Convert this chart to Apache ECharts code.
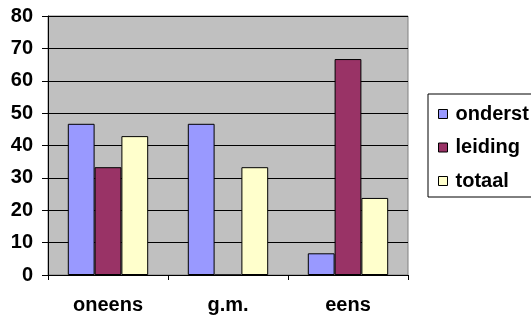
<!DOCTYPE html>
<html><head><meta charset="utf-8">
<script src="https://cdn.jsdelivr.net/npm/echarts@6/dist/echarts.min.js"></script>
<style>html,body{margin:0;padding:0;background:#fff}#c{width:531px;height:320px}</style>
</head><body><div id="c"></div>
<script>
const categories = ['oneens', 'g.m.', 'eens'];
const onderst = [46.7, 46.7, 6.7];
const leiding = [33.3, 0, 66.7];
const totaal = [42.9, 33.3, 23.8];
const yTicks = [0, 10, 20, 30, 40, 50, 60, 70, 80];

const font = '"Liberation Sans", Arial, sans-serif';
const fs = 20;
const chart = echarts.init(document.getElementById('c'), null, {renderer: 'canvas'});
const mk = (name, data, color) => ({
  name, type: 'bar', data, barGap: '0%', barCategoryGap: '33%',
  itemStyle: {color, borderColor: '#000', borderWidth: 1},
  emphasis: {disabled: true}
});
chart.setOption({
  animation: false,
  textStyle: {fontFamily: font},
  grid: {left: 48, top: 16, width: 360, height: 259, containLabel: false,
         show: true, backgroundColor: '#C0C0C0', borderColor: '#808080', borderWidth: 1},
  legend: {
    orient: 'vertical', left: 428, top: 94,
    padding: [10, 40, 6, 10], itemGap: 13.5, itemWidth: 9, itemHeight: 9,
    borderColor: '#000', borderWidth: 1, backgroundColor: '#fff',
    icon: 'rect',
    itemStyle: {borderColor: '#000', borderWidth: 1},
    textStyle: {fontFamily: font, fontWeight: 'bold', fontSize: fs, color: '#000', padding: [0, 0, 0, 3]},
    data: ['onderst', 'leiding', 'totaal']
  },
  xAxis: {
    type: 'category', data: categories,
    axisLine: {lineStyle: {color: '#000', width: 1}},
    axisTick: {show: true, length: 5, alignWithLabel: false, lineStyle: {color: '#000'}},
    axisLabel: {fontFamily: font, fontWeight: 'bold', fontSize: fs, color: '#000', margin: 20}
  },
  yAxis: {
    type: 'value', min: yTicks[0], max: yTicks[yTicks.length - 1], interval: 10,
    axisLine: {show: true, lineStyle: {color: '#000', width: 1}},
    axisTick: {show: true, length: 6, lineStyle: {color: '#000'}},
    splitLine: {show: true, lineStyle: {color: '#000', width: 1}},
    axisLabel: {fontFamily: font, fontWeight: 'bold', fontSize: fs, color: '#000', margin: 15}
  },
  series: [
    mk('onderst', onderst, '#9999FF'),
    mk('leiding', leiding, '#993366'),
    mk('totaal', totaal, '#FFFFCC')
  ]
});
</script></body></html>
